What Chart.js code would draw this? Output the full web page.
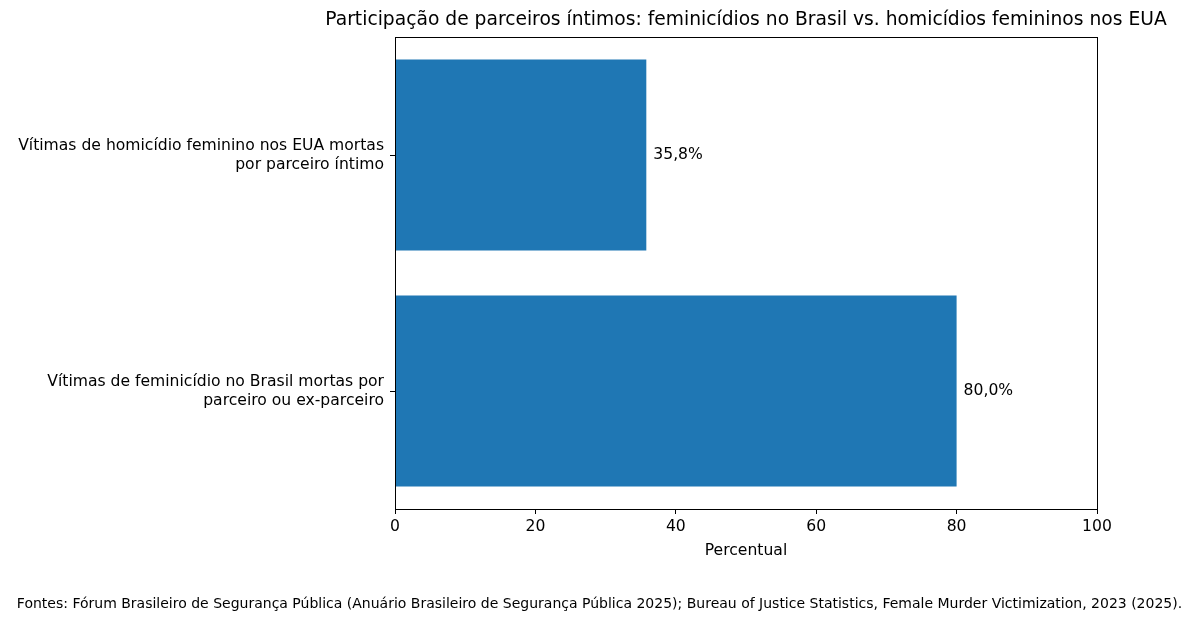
<!DOCTYPE html>
<html>
<head>
<meta charset="utf-8">
<script src="https://cdn.jsdelivr.net/npm/chart.js@4"></script>
<style>
  html, body { margin: 0; padding: 0; background: #fff; }
  #wrap { width: 1199px; height: 622px; }
</style>
</head>
<body>
<div id="wrap"><canvas id="barChart"></canvas></div>
<script>
// data
const categories = [
    ['Vítimas de homicídio feminino nos EUA mortas', 'por parceiro íntimo'],
    ['Vítimas de feminicídio no Brasil mortas por', 'parceiro ou ex-parceiro']
];
const percentValues = [35.8, 80.0];
const valueLabels = ['35,8%', '80,0%'];
const xTicks = [0, 20, 40, 60, 80, 100];

const chartTitle = 'Participação de parceiros íntimos: feminicídios no Brasil vs. homicídios femininos nos EUA';
const xTitle = 'Percentual';
const sourceNote = 'Fontes: Fórum Brasileiro de Segurança Pública (Anuário Brasileiro de Segurança Pública 2025); Bureau of Justice Statistics, Female Murder Victimization, 2023 (2025).';

const FONT = "'DejaVu Sans', sans-serif";

// frame, titles, footer and value labels
const extras = {
    id: 'extras',
    afterDatasetsDraw(chart) {
        const { ctx, chartArea } = chart;
        const midX = (chartArea.left + chartArea.right) / 2;
        ctx.save();
        // box around the plot
        ctx.strokeStyle = '#000';
        ctx.lineWidth = 1;
        ctx.strokeRect(chartArea.left + 0.5, chartArea.top + 0.5,
            chartArea.right - chartArea.left, chartArea.bottom - chartArea.top);

        // value labels at end of bars
        ctx.fillStyle = '#000';
        ctx.font = '15.6px ' + FONT;
        ctx.textAlign = 'left';
        ctx.textBaseline = 'middle';
        chart.getDatasetMeta(0).data.forEach((bar, i) => {
            ctx.fillText(valueLabels[i], bar.x + 7, bar.y);
        });

        // x axis title
        ctx.textAlign = 'center';
        ctx.fillText(xTitle, midX, 551);

        // title, centred over the plot
        ctx.font = '18.7px ' + FONT;
        ctx.fillText(chartTitle, midX, 20);

        // source note
        ctx.font = '14px ' + FONT;
        ctx.fillText(sourceNote, chart.width / 2, 604);
        ctx.restore();
    }
};

new Chart(document.getElementById('barChart'), {
    type: 'bar',
    data: {
        labels: categories,
        datasets: [{
            data: percentValues,
            backgroundColor: '#1f77b4',
            borderWidth: 0,
            barPercentage: 0.81,
            categoryPercentage: 1.0
        }]
    },
    options: {
        indexAxis: 'y',
        responsive: true,
        maintainAspectRatio: false,
        animation: false,
        layout: { padding: { top: 37, right: 102, left: 0, bottom: 0 } },
        plugins: {
            legend: { display: false },
            tooltip: { enabled: false }
        },
        scales: {
            x: {
                min: 0,
                max: 100,
                afterBuildTicks: (scale) => { scale.ticks = xTicks.map(v => ({ value: v })); },
                afterFit: (scale) => { scale.height = 113; },
                grid: { drawOnChartArea: false, drawTicks: true, tickLength: 5, color: '#000' },
                border: { display: true, color: '#000' },
                ticks: { color: '#000', font: { family: FONT, size: 15.6 }, padding: 4 }
            },
            y: {
                offset: true,
                afterFit: (scale) => { scale.width = 395; },
                grid: { drawOnChartArea: false, drawTicks: true, tickLength: 5, color: '#000', offset: false },
                border: { display: true, color: '#000' },
                ticks: { color: '#000', font: { family: FONT, size: 15.6, lineHeight: 1.22 }, padding: 6 }
            }
        }
    },
    plugins: [extras]
});
</script>
</body>
</html>
